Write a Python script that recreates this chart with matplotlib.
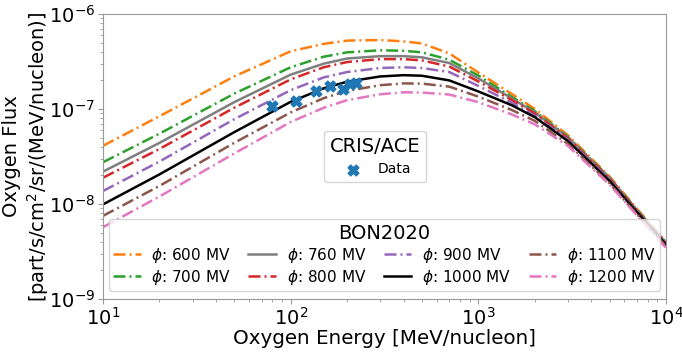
import numpy as np
import matplotlib
matplotlib.use("Agg")
import matplotlib.pyplot as plt

# Kinetic energy grid [MeV/nucleon]
energy = [10, 20, 50, 100, 150, 200, 300, 400, 500, 700, 1000, 1500, 2000, 3000, 5000, 7000, 10000]

# BON2020 modulated oxygen spectra for each modulation potential
flux_600 = [4.1e-8, 8.4e-8, 2.2e-7, 4.05e-7, 4.85e-7, 5.25e-7, 5.32e-7, 5.15e-7, 4.9e-7, 3.85e-7, 2.42e-7, 1.45e-7, 1.0e-7, 5.3e-8, 1.95e-8, 8.9e-9, 4.0e-9]
flux_700 = [2.75e-8, 5.5e-8, 1.45e-7, 2.75e-7, 3.55e-7, 3.95e-7, 4.15e-7, 4.1e-7, 3.95e-7, 3.3e-7, 2.25e-7, 1.35e-7, 9.5e-8, 5.1e-8, 1.9e-8, 8.7e-9, 3.95e-9]
flux_760 = [2.19e-8, 4.4e-8, 1.18e-7, 2.3e-7, 3.0e-7, 3.4e-7, 3.6e-7, 3.6e-7, 3.5e-7, 3.05e-7, 2.1e-7, 1.3e-7, 9.2e-8, 5.0e-8, 1.88e-8, 8.6e-9, 3.9e-9]
flux_800 = [1.89e-8, 3.8e-8, 1.03e-7, 2.05e-7, 2.75e-7, 3.12e-7, 3.35e-7, 3.35e-7, 3.25e-7, 2.8e-7, 1.95e-7, 1.25e-7, 9.0e-8, 4.9e-8, 1.85e-8, 8.5e-9, 3.85e-9]
flux_900 = [1.37e-8, 2.8e-8, 7.8e-8, 1.58e-7, 2.15e-7, 2.45e-7, 2.7e-7, 2.75e-7, 2.7e-7, 2.45e-7, 1.75e-7, 1.17e-7, 8.5e-8, 4.75e-8, 1.8e-8, 8.3e-9, 3.8e-9]
flux_1000 = [9.9e-9, 2.05e-8, 5.7e-8, 1.19e-7, 1.65e-7, 1.94e-7, 2.2e-7, 2.27e-7, 2.24e-7, 2.0e-7, 1.53e-7, 1.1e-7, 8.2e-8, 4.6e-8, 1.75e-8, 8.2e-9, 3.75e-9]
flux_1100 = [7.5e-9, 1.55e-8, 4.4e-8, 9.2e-8, 1.3e-7, 1.55e-7, 1.78e-7, 1.86e-7, 1.85e-7, 1.72e-7, 1.35e-7, 9.8e-8, 7.5e-8, 4.3e-8, 1.65e-8, 7.8e-9, 3.6e-9]
flux_1200 = [5.7e-9, 1.2e-8, 3.4e-8, 7.3e-8, 1.03e-7, 1.24e-7, 1.43e-7, 1.5e-7, 1.49e-7, 1.42e-7, 1.18e-7, 8.8e-8, 6.9e-8, 4.1e-8, 1.6e-8, 7.6e-9, 3.45e-9]

phi_labels = ["600", "700", "760", "800", "900", "1000", "1100", "1200"]

# CRIS/ACE oxygen measurements
cris_energy = [80, 107, 137, 162, 189, 206, 223]
cris_flux = [1.08e-7, 1.22e-7, 1.55e-7, 1.75e-7, 1.61e-7, 1.82e-7, 1.89e-7]

series = [flux_600, flux_700, flux_760, flux_800, flux_900, flux_1000, flux_1100, flux_1200]
colors = ["tab:orange", "tab:green", "tab:gray", "tab:red", "tab:purple", "black", "tab:brown", "tab:pink"]
dashdot = (0, (4.8, 1.6, 0.8, 1.6))
styles = [dashdot, dashdot, "-", dashdot, dashdot, "-", dashdot, dashdot]

fig = plt.figure(figsize=(6.82, 3.55), dpi=100)
ax = fig.add_axes([103 / 682, 1 - 299 / 355, (666 - 103) / 682, (299 - 14) / 355])

model_handles = []
for flux, c, ls, lab in zip(series, colors, styles, phi_labels):
    h, = ax.plot(energy, flux, color=c, ls=ls, lw=1.8, label=r"$\phi$: " + lab + " MV")
    model_handles.append(h)

data_handle = ax.scatter(cris_energy, cris_flux, marker="X", s=60, color="tab:blue", zorder=5, label="Data")

ax.set_xscale("log")
ax.set_yscale("log")
ax.set_xlim(10, 1e4)
ax.set_ylim(1e-9, 1e-6)

for sp in ax.spines.values():
    sp.set_color("#999999")
ax.tick_params(axis="both", which="major", labelsize=14, color="#999999", pad=2)
ax.tick_params(axis="both", which="minor", color="#999999")

ax.set_xlabel("Oxygen Energy [MeV/nucleon]", fontsize=14.3, labelpad=0)
ax.set_ylabel("Oxygen Flux\n[part/s/cm$^2$/sr/(MeV/nucleon)]", fontsize=14)
ax.yaxis.set_label_coords(-0.093, 0.5)

leg1 = ax.legend(handles=[data_handle], title="CRIS/ACE", loc="center",
                 bbox_to_anchor=(0.483, 0.5), fontsize=10, title_fontsize=14,
                 handletextpad=0.8)
ax.add_artist(leg1)

ax.legend(handles=model_handles, title="BON2020", loc="lower center", ncol=4,
          fontsize=11, title_fontsize=14, handlelength=1.8, handletextpad=0.7,
          columnspacing=1.15, labelspacing=0.2, borderpad=0.3,
          bbox_to_anchor=(0.5, 0.0))

fig.savefig("out.png", dpi=100)
